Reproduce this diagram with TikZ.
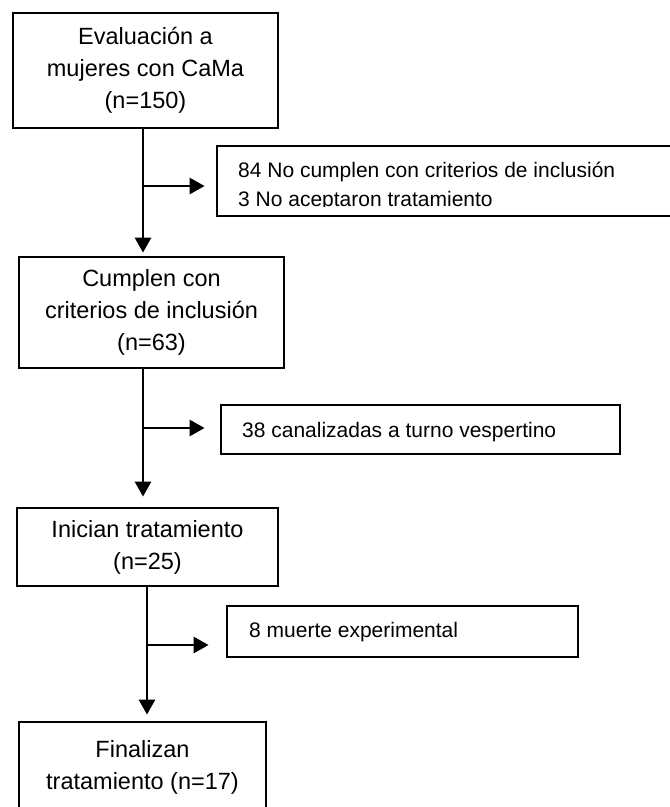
\documentclass[tikz,border=0pt]{standalone}
\usepackage{fontspec}
\setmainfont{Liberation Sans}
\usetikzlibrary{arrows.meta}
\begin{document}
\begin{tikzpicture}[x=1pt,y=-1pt,
  box/.style={draw, line width=2.8pt, inner sep=0pt, align=center, font=\fontsize{23.5}{32}\selectfont},
  sidebox/.style={draw, line width=2.8pt, inner sep=0pt},
  sidetext/.style={inner sep=0pt, anchor=base west, font=\fontsize{21}{29}\selectfont},
  arr/.style={line width=2.8pt, -{Triangle[length=15pt,width=16pt]}}]
\useasboundingbox (0,0) rectangle (670,807);
\clip (0,0) rectangle (670,807);
\coordinate (c1) at (143,0);
\coordinate (c2) at (147,0);
\coordinate (j1) at (143,186);
\coordinate (j2) at (143,428);
\coordinate (j3) at (147,645);
% main boxes
\node[box, minimum width=265pt, minimum height=115pt] (b1) at (145.5,70.5) {Evaluación a\\mujeres con CaMa\\(n=150)};
\node[box, minimum width=265pt, minimum height=111pt] (b2) at (151.5,312.5) {Cumplen con\\criterios de inclusión\\(n=63)};
\node[box, minimum width=261pt, minimum height=78pt] (b3) at (147.5,547) {Inician tratamiento\\(n=25)};
\node[box, minimum width=247pt, minimum height=90pt] (b4) at (142.5,767) {Finalizan\\tratamiento (n=17)};
% side boxes
\node[sidebox, minimum width=455pt, minimum height=70pt] (r1) at (444.5,181) {};
\node[sidebox, minimum width=399pt, minimum height=49pt] (r2) at (420.5,429.5) {};
\node[sidebox, minimum width=351pt, minimum height=51pt] (r3) at (402.5,631.5) {};
\begin{scope}
\clip (217,146) rectangle (672,206);
\node[sidetext] (t1) at (238,177) {\vtop{\hbox{84 No cumplen con criterios de inclusión}\hbox{3 No aceptaron tratamiento}}};
\end{scope}
\node[sidetext] (t2) at (242,437) {38 canalizadas a turno vespertino};
\node[sidetext] (t3) at (249,637) {8 muerte experimental};
% connectors
\draw[arr, shorten >=3pt] (b1.south -| c1) -- (b2.north -| c1);
\draw[arr, shorten >=10pt] (b2.south -| c1) -- (b3.north -| c1);
\draw[arr, shorten >=6pt] (b3.south -| c2) -- (b4.north -| c2);
\draw[arr, shorten >=11pt] (j1) -- (r1.west |- j1);
\draw[arr, shorten >=15pt] (j2) -- (r2.west |- j2);
\draw[arr, shorten >=17pt] (j3) -- (r3.west |- j3);
\end{tikzpicture}
\end{document}
